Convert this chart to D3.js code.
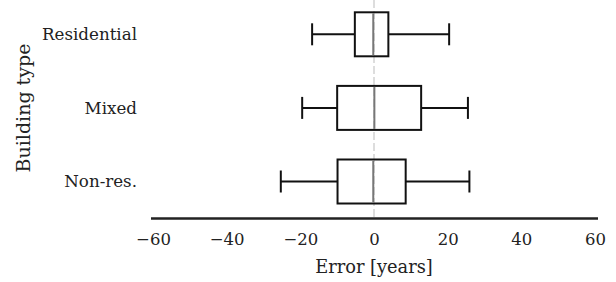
<!DOCTYPE html>
<html>
<head>
<meta charset="utf-8">
<script src="https://cdn.jsdelivr.net/npm/d3@7"></script>
<style>
  body { margin: 0; background: #fff; }
  text { font-family: "DejaVu Serif", serif; fill: #222; }
</style>
</head>
<body>
<div class="container"></div>
<script>
// building types, top to bottom
const types = ['Residential', 'Mixed', 'Non-res.'];
// whisker low, q1, median, q3, whisker high  (error in years)
const whiskerLow = [-16.8, -19.5, -25.3];
const q1 = [-5.2, -10.0, -9.9];
const median = [-0.2, 0.1, -0.2];
const q3 = [3.9, 12.8, 8.6];
const whiskerHigh = [20.4, 25.5, 25.9];
const xTicks = [-60, -40, -20, 0, 20, 40, 60];

const W = 616, H = 282;

const svg = d3.select('.container')
	.append('svg')
	.attr('width', W)
	.attr('height', H);

const x = d3.scaleLinear().domain([-60, 60]).range([153, 595]);
const y = d3.scaleBand().domain(types).range([-2.5, 218.3]);
const boxH = 44;

// zero reference line
svg.append('line')
	.attr('x1', x(0)).attr('x2', x(0))
	.attr('y1', 0).attr('y2', 218)
	.attr('stroke', '#bbb')
	.attr('stroke-width', 1)
	.attr('stroke-dasharray', '8,3');

const rows = types.map((t, i) => ({
	t, lo: whiskerLow[i], q1: q1[i], med: median[i], q3: q3[i], hi: whiskerHigh[i]
}));

const g = svg.selectAll('g.box')
	.data(rows)
	.join('g')
	.attr('class', 'box')
	.attr('transform', d => `translate(0,${y(d.t) + y.bandwidth() / 2})`);

// whiskers
g.append('line')
	.attr('x1', d => x(d.lo)).attr('x2', d => x(d.q1))
	.attr('stroke', '#111').attr('stroke-width', 2);
g.append('line')
	.attr('x1', d => x(d.q3)).attr('x2', d => x(d.hi))
	.attr('stroke', '#111').attr('stroke-width', 2);
// caps
g.append('line')
	.attr('x1', d => x(d.lo)).attr('x2', d => x(d.lo))
	.attr('y1', -11).attr('y2', 11)
	.attr('stroke', '#111').attr('stroke-width', 2);
g.append('line')
	.attr('x1', d => x(d.hi)).attr('x2', d => x(d.hi))
	.attr('y1', -11).attr('y2', 11)
	.attr('stroke', '#111').attr('stroke-width', 2);
// box
g.append('rect')
	.attr('x', d => x(d.q1))
	.attr('width', d => x(d.q3) - x(d.q1))
	.attr('y', -boxH / 2)
	.attr('height', boxH)
	.attr('fill', 'none')
	.attr('stroke', '#111').attr('stroke-width', 2);
// median
g.append('line')
	.attr('x1', d => x(d.med)).attr('x2', d => x(d.med))
	.attr('y1', -boxH / 2 + 1).attr('y2', boxH / 2 - 1)
	.attr('stroke', '#777').attr('stroke-width', 2);

// category labels
svg.selectAll('text.cat')
	.data(types)
	.join('text')
	.attr('class', 'cat')
	.attr('x', 137)
	.attr('y', d => y(d) + y.bandwidth() / 2)
	.attr('dy', '0.35em')
	.attr('text-anchor', 'end')
	.attr('font-size', 16.7)
	.text(d => d);

// x axis
const xAxis = svg.append('g')
	.attr('transform', 'translate(0,218.5)')
	.call(d3.axisBottom(x).tickValues(xTicks).tickSize(0).tickPadding(15).tickSizeOuter(0));
xAxis.select('.domain')
	.attr('d', `M151,0H598`)
	.attr('stroke', '#222')
	.attr('stroke-width', 2.5);
xAxis.selectAll('text')
	.attr('font-size', 16.5)
	.attr('font-family', '"DejaVu Serif", serif')
	.attr('fill', '#222');

svg.append('text')
	.attr('x', x(0))
	.attr('y', 273)
	.attr('text-anchor', 'middle')
	.attr('font-size', 17.8)
	.text('Error [years]');

svg.append('text')
	.attr('transform', 'translate(30,108) rotate(-90)')
	.attr('text-anchor', 'middle')
	.attr('font-size', 19)
	.text('Building type');
</script>
</body>
</html>
